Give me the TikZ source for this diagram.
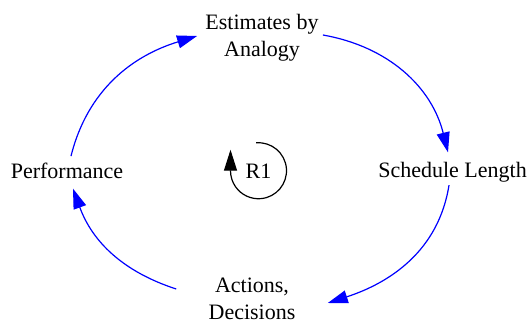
\documentclass[tikz,border=0pt]{standalone}
\usepackage{fontspec}
\setmainfont{Liberation Serif}
\usetikzlibrary{arrows.meta}
\begin{document}
\begin{tikzpicture}[x=0.5pt,y=0.5pt,
  txt/.style={inner sep=0pt, font=\fontsize{11}{13.5}\selectfont, align=center},
  flow/.style={draw=blue, line width=0.6pt, -{Triangle[length=10pt,width=6.5pt]}},
  loopsym/.style={draw=black, line width=0.6pt, -{Triangle[length=10.5pt,width=6.5pt]}}]
\useasboundingbox (0,0) rectangle (530,322);

% variables of the loop
\node[txt] (est) at (262,284) {Estimates by\\Analogy};
\node[txt,anchor=base] (sched) at (452.5,145) {Schedule Length};
\node[txt] (act) at (252,23) {Actions,\\Decisions};
\node[txt,anchor=base] (perf) at (67,144) {Performance};
\node[txt,anchor=base] (r1) at (258.5,144) {R1};

% causal links
\draw[flow] ([shift={(4,6)}]perf.north) to[out=76,in=197] ([shift={(-8,2)}]est.west);
\draw[flow] ([shift={(4,3)}]est.east) to[out=-10,in=104] ([shift={(-4.5,9)}]sched.north);
\draw[flow] ([shift={(-3.5,-3)}]sched.south) to[out=261,in=18] ([shift={(32,-4)}]act.east);
\draw[flow] ([shift={(-32,10)}]act.west) to[out=162,in=290] ([shift={(6,-10)}]perf.south);

% reinforcing loop marker
\draw[loopsym] ([shift={(95:28)}]r1.center) arc[start angle=95,end angle=-180,radius=28] -- ++(0,21);
\end{tikzpicture}
\end{document}
